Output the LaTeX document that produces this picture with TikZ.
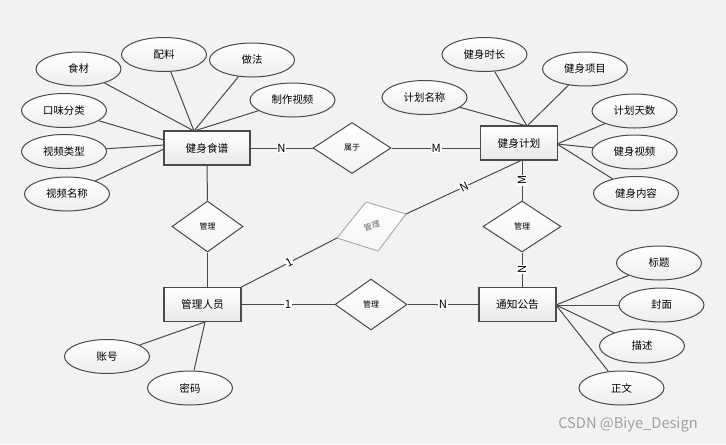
\documentclass[tikz,border=0pt]{standalone}
\usepackage{fontspec}
\setmainfont{Noto Sans CJK SC}
\usetikzlibrary{shapes.geometric}
\definecolor{bg}{HTML}{F2F2F2}
\definecolor{edge}{HTML}{4A4A4A}
\definecolor{pale}{HTML}{A8A8A8}
\begin{document}
\begin{tikzpicture}[x=0.75pt,y=-0.75pt,
  ent/.style={draw=edge, line width=0.85pt, rectangle, minimum width=57.75pt, minimum height=25.5pt,
    inner sep=0pt, top color=white, bottom color=gray!18, font=\fontsize{8}{9}\selectfont},
  attr/.style={draw=edge, line width=0.75pt, ellipse, minimum width=63.75pt, minimum height=25.5pt,
    inner sep=0pt, top color=white, bottom color=gray!14, font=\fontsize{7.8}{9}\selectfont},
  rel/.style={draw=edge, line width=0.75pt, diamond, inner sep=0pt, minimum height=38.25pt,
    top color=white, bottom color=gray!10, font=\fontsize{6}{7}\selectfont},
  conn/.style={draw=edge, line width=0.75pt},
  lab/.style={fill=white, inner sep=0.5pt, font=\fontsize{8.5}{9}\selectfont}
]
\useasboundingbox (0,0) rectangle (726,444);
\fill[bg] (0,0) rectangle (726,444);

% entities
\node[ent, minimum width=64.5pt] (recipe) at (207,148) {健身食谱};
\node[ent] (plan) at (519,143) {健身计划};
\node[ent] (admin) at (202.5,304.5) {管理人员};
\node[ent] (notice) at (517.5,304.5) {通知公告};

% relationships
\node[rel, minimum width=58.5pt] (shuyu) at (352,148) {属于};
\node[rel, minimum width=53.25pt] (gl1) at (207.5,226.5) {管理};
\node[rel, minimum width=58.5pt] (gl2) at (522,226.5) {管理};
\node[rel, minimum width=54pt] (gl3) at (371,304.5) {管理};

% skewed (faded) relationship
\coordinate (dT) at (366,202);
\coordinate (dR) at (406,214);
\coordinate (dB) at (378,251);
\coordinate (dL) at (337,238);
\fill[top color=white, bottom color=gray!8, draw=pale, line width=0.6pt] (dT) -- (dR) -- (dB) -- (dL) -- cycle;
\node[text=gray!80!black, rotate=17, font=\fontsize{6}{7}\selectfont] (gl4) at (372,226) {管理};

% attributes
\node[attr] (shicai) at (78.5,69) {食材};
\node[attr] (peiliao) at (164,54.5) {配料};
\node[attr] (zuofa) at (252,60) {做法};
\node[attr] (zhizuo) at (292.5,100) {制作视频};
\node[attr] (kouwei) at (64,110.5) {口味分类};
\node[attr] (leixing) at (64,151.5) {视频类型};
\node[attr] (mingcheng) at (67,194) {视频名称};

\node[attr] (shichang) at (484.5,54.5) {健身时长};
\node[attr] (xiangmu) at (585,69) {健身项目};
\node[attr] (jihuaming) at (424.5,97.5) {计划名称};
\node[attr] (tianshu) at (634.5,111) {计划天数};
\node[attr] (shipin) at (634.5,152) {健身视频};
\node[attr] (neirong) at (636,193.5) {健身内容};

\node[attr] (zhanghao) at (107,356.5) {账号};
\node[attr] (mima) at (190,388) {密码};

\node[attr] (biaoti) at (659,263) {标题};
\node[attr] (fengmian) at (661.5,305) {封面};
\node[attr] (miaoshu) at (642,346) {描述};
\node[attr] (zhengwen) at (621.5,388) {正文};

% attachment points
\coordinate (rT) at (194,131);
\coordinate (rL1) at (164,140);
\coordinate (rL2) at (164,145);
\coordinate (rL3) at (164,149);
\coordinate (pT) at (527,126);
\coordinate (pR) at (557,144);
\coordinate (pB) at (522,160);
\coordinate (pL) at (481,148);
\coordinate (mB) at (205,322);
\coordinate (nR) at (556,305);

% attribute connectors
\draw[conn] (shicai) -- (rT);
\draw[conn] (peiliao) -- (rT);
\draw[conn] (zuofa) -- (rT);
\draw[conn] (zhizuo) -- (rT);
\draw[conn] (kouwei) -- (rL1);
\draw[conn] (leixing) -- (rL2);
\draw[conn] (mingcheng) -- (rL3);

\draw[conn] (shichang) -- (pT);
\draw[conn] (xiangmu) -- (pT);
\draw[conn] (jihuaming) -- (pT);
\draw[conn] (tianshu) -- (pR);
\draw[conn] (shipin) -- (pR);
\draw[conn] (neirong) -- (pR);

\draw[conn] (zhanghao) -- (mB);
\draw[conn] (mima) -- (mB);

\draw[conn] (biaoti) -- (nR);
\draw[conn] (fengmian) -- (nR);
\draw[conn] (miaoshu) -- (nR);
\draw[conn] (zhengwen) -- (nR);

% relationship connectors
\draw[conn] (recipe.east) -- node[lab] {N} (shuyu.west);
\draw[conn] (shuyu.east) -- node[lab] {M} (pL);
\draw[conn] (recipe.south) -- (gl1.north);
\draw[conn] (gl1.south) -- (admin.north -| gl1.south);
\draw[conn] (admin.north east) -- node[lab, sloped] {1} (dL);
\draw[conn] (dR) -- node[lab, sloped] {N} (pB);
\draw[conn] (pB) -- node[lab, rotate=90] {M} (gl2.north);
\draw[conn] (gl2.south) -- node[lab, rotate=90] {N} (notice.north -| gl2.south);
\draw[conn] (admin.east) -- node[lab] {1} (gl3.west);
\draw[conn] (gl3.east) -- node[lab] {N} (notice.west);

% watermark
\node[anchor=west, text=gray!75, font=\fontsize{11}{12}\selectfont, inner sep=0pt] (wm) at (558,425) {CSDN @Biye\_Design};
\end{tikzpicture}
\end{document}
